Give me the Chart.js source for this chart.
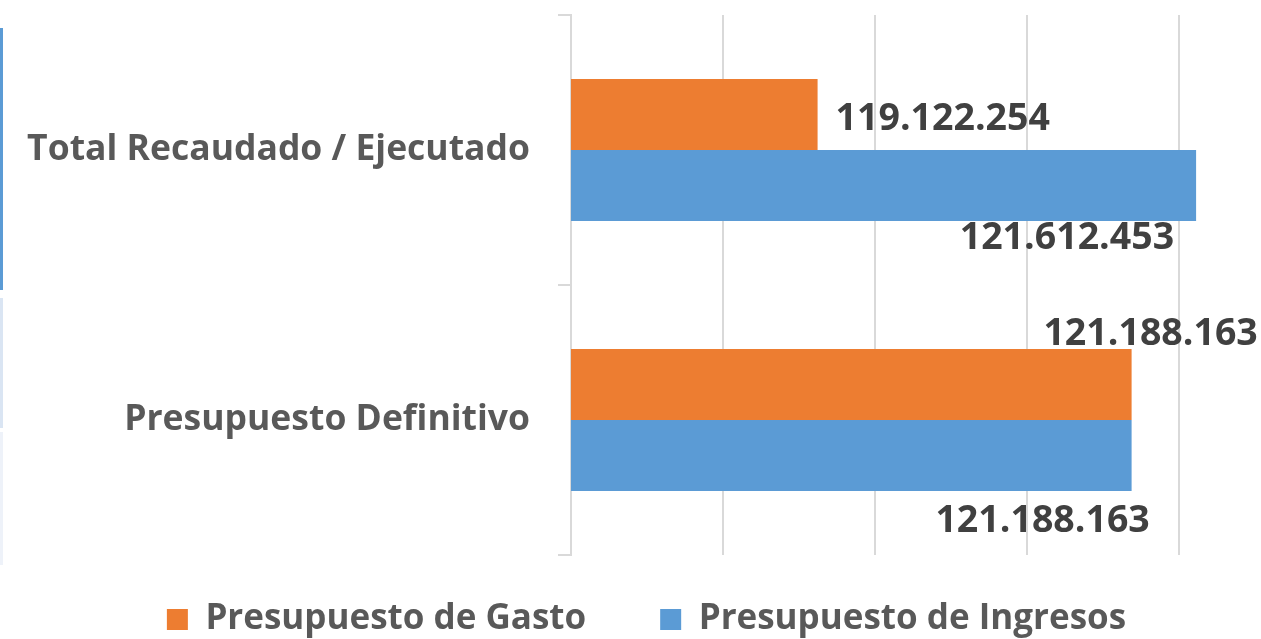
<!DOCTYPE html>
<html>
<head>
<meta charset="utf-8">
<script src="https://cdn.jsdelivr.net/npm/chart.js@4.4.1/dist/chart.umd.min.js"></script>
<style>
  html, body { margin: 0; padding: 0; background: #fff; }
  .wrap { position: relative; width: 1261px; height: 639px; }
  .edge { position: absolute; left: 0; width: 3px; }
</style>
</head>
<body>
<div class="wrap">
  <div class="edge" style="top:28px;height:262px;background:#5B9BD5"></div>
  <div class="edge" style="top:298px;height:130px;background:#DAE5F3"></div>
  <div class="edge" style="top:432px;height:133px;background:#EEF2F9"></div>
  <canvas id="budgetChart" width="1261" height="639"></canvas>
</div>
<script>
// chart data
const categories = ["Total Recaudado / Ejecutado", "Presupuesto Definitivo"];
const gasto = [119122254, 121188163];
const ingresos = [121612453, 121188163];
const seriesNames = ["Presupuesto de Gasto", "Presupuesto de Ingresos"];
// value axis: gridlines every million from 117.5M
const gridValues = [117500000, 118500000, 119500000, 120500000, 121500000];
const axisMin = 117500000;
const axisMax = 122000000;

// label nudges (x, y, align) per dataset / category, like the hand-moved labels in the original
const labelPos = [
  [[18, 5, "left"], [19, -50, "center"]],
  [[-22, 53, "right"], [-89, 66, "center"]]
];

const fmt = v => String(v).replace(/\B(?=(\d{3})+(?!\d))/g, ".");

const valueLabels = {
  id: "valueLabels",
  afterDatasetsDraw(chart) {
    const ctx = chart.ctx;
    ctx.save();
    ctx.font = "bold 37.5px 'Open Sans'";
    ctx.fillStyle = "#404040";
    ctx.textBaseline = "middle";
    chart.data.datasets.forEach((ds, d) => {
      chart.getDatasetMeta(d).data.forEach((bar, i) => {
        const p = labelPos[d][i];
        ctx.textAlign = p[2];
        ctx.fillText(fmt(ds.data[i]), bar.x + p[0], bar.y + p[1]);
      });
    });
    ctx.restore();
  }
};

// pull the legend up closer to the plot and a bit to the right
const legendNudge = {
  id: "legendNudge",
  afterLayout(chart) {
    const lg = chart.legend;
    lg.top -= 27;
    lg.bottom -= 27;
    lg.left += 38;
  }
};

const ctx = document.getElementById("budgetChart").getContext("2d");

const chart = new Chart(ctx, {
  type: "bar",
  data: {
    labels: categories,
    datasets: [{
      label: seriesNames[0],
      data: gasto,
      backgroundColor: "#ED7D31",
      barPercentage: 1,
      categoryPercentage: 0.526
    }, {
      label: seriesNames[1],
      data: ingresos,
      backgroundColor: "#5B9BD5",
      barPercentage: 1,
      categoryPercentage: 0.526
    }]
  },
  options: {
    indexAxis: "y",
    responsive: false,
    animation: false,
    layout: { padding: { top: 15, right: 6, left: 0, bottom: -35 } },
    scales: {
      x: {
        min: axisMin,
        max: axisMax,
        ticks: { display: false },
        grid: { color: "#D9D9D9", lineWidth: 2, drawTicks: false },
        border: { display: false },
        afterBuildTicks: scale => {
          scale.ticks = gridValues.map(v => ({ value: v }));
        },
        afterFit: scale => { scale.height = 0; }
      },
      y: {
        ticks: {
          color: "#595959",
          font: { family: "Open Sans", weight: "bold", size: 35.5 },
          padding: 28
        },
        grid: {
          drawOnChartArea: false,
          offset: true,
          tickLength: 13,
          color: "#D9D9D9",
          lineWidth: 2
        },
        border: { color: "#D9D9D9", width: 2 },
        afterFit: scale => {
          scale.width = 571;
          scale.paddingTop = 0;
          scale.paddingBottom = 0;
        }
      }
    },
    plugins: {
      legend: {
        position: "bottom",
        labels: {
          color: "#595959",
          font: { family: "Open Sans", weight: "bold", size: 35 },
          boxWidth: 21,
          boxHeight: 21,
          padding: 74
        }
      },
      tooltip: { enabled: false }
    }
  },
  plugins: [valueLabels, legendNudge]
});
</script>
</body>
</html>
